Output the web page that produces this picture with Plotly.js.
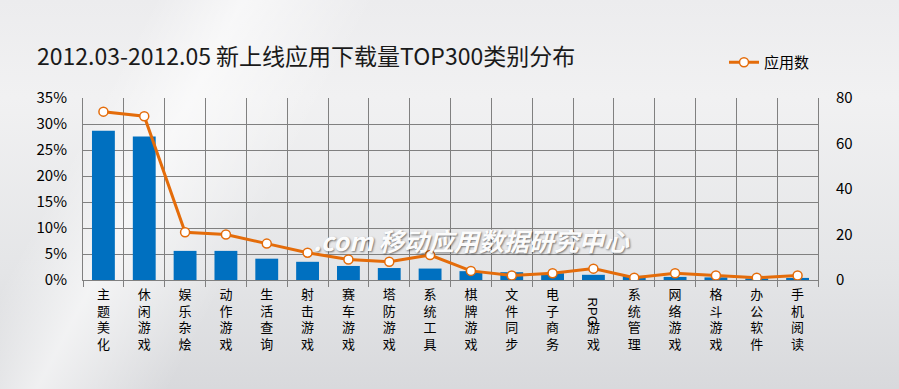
<!DOCTYPE html>
<html>
<head>
<meta charset="utf-8">
<script src="https://cdn.plot.ly/plotly-3.0.1.min.js"></script>
<style>
html,body{margin:0;padding:0;}
body{width:899px;height:389px;overflow:hidden;
background:
 linear-gradient(118deg, rgba(255,255,255,0) 0%, rgba(255,255,255,0) 14%, rgba(255,255,255,0.6) 22%, rgba(255,255,255,0) 34%, rgba(255,255,255,0) 100%),
 linear-gradient(180deg, #ececee 0%, #f1f1f2 25%, #e4e5e7 70%, #d8d9dc 100%);}
#chart{width:899px;height:389px;}
</style>
</head>
<body>
<div id="chart"></div>
<script>
const categories = ['主题美化','休闲游戏','娱乐杂烩','动作游戏','生活查询','射击游戏','赛车游戏','塔防游戏','系统工具','棋牌游戏','文件同步','电子商务','RPG游戏','系统管理','网络游戏','格斗游戏','办公软件','手机阅读'];
const sharePct = [28.7, 27.6, 5.6, 5.6, 4.1, 3.5, 2.7, 2.3, 2.2, 1.7, 1.5, 1.3, 1.0, 0.8, 0.6, 0.5, 0.3, 0.4];
const appCount = [74, 72, 21, 20, 16, 12, 9, 8, 11, 4, 2, 3, 5, 1, 3, 2, 1, 2];
const leftTicks = [0, 5, 10, 15, 20, 25, 30, 35];
const rightTicks = [0, 20, 40, 60, 80];
const titleText = '2012.03-2012.05 新上线应用下载量TOP300类别分布';
const seriesName = '应用数';
const watermark = '.com 移动应用数据研究中心';

function verticalLabel(s){
  if (s.startsWith('RPG')) return '\u3000<br>\u3000<br>' + s.slice(3).split('').join('<br>');
  return s.split('').join('<br>');
}
const tickText = categories.map(verticalLabel);

const fontFam = '"Noto Sans CJK SC", "Noto Sans", sans-serif';
const tickFam = '"Liberation Sans", "Noto Sans CJK SC", sans-serif';

const traces = [
  {type:'bar', x: categories, y: sharePct, marker:{color:'#0070C0'}, showlegend:false, hoverinfo:'skip', yaxis:'y'},
  {type:'scatter', mode:'lines+markers', x: categories, y: appCount, yaxis:'y2', name: seriesName,
   line:{color:'#E46C0A', width:3},
   marker:{symbol:'circle', size:9, color:'#ffffff', line:{color:'#E46C0A', width:1.5}}}
];

const annotations = [
  {text:'RPG', xref:'x', yref:'paper', x:'RPG游戏', y:-(312-280)/182, yanchor:'middle', xanchor:'center', textangle:90, showarrow:false,
   font:{family:tickFam, size:13, color:'#000'}},
  {text: watermark, xref:'paper', yref:'paper', x:(311-83)/735, y:(280-240)/182, xanchor:'left', yanchor:'middle', showarrow:false,
   font:{family:fontFam, size:25, color:'rgba(255,255,255,0.97)', weight:700, style:'italic', shadow:'1px 1px 2px rgba(0,0,0,0.5)'}}
];

const layout = {
  width: 899, height: 389,
  margin:{l:83, r:81, t:98, b:109},
  paper_bgcolor:'rgba(0,0,0,0)', plot_bgcolor:'rgba(0,0,0,0)',
  font:{family:fontFam, color:'#000'},
  title:{text:titleText, x:37/899, xanchor:'left', xref:'container', y:1-57/389, yanchor:'middle', yref:'container',
         font:{family:fontFam, size:23, color:'#1a1a1a'}},
  bargap:0.44,
  xaxis:{type:'category', tickmode:'array', tickvals:categories, ticktext:tickText, tickson:'boundaries',
         showgrid:true, gridcolor:'#808080', gridwidth:1, ticks:'outside', ticklen:6, tickcolor:'#808080',
         showline:true, linecolor:'#808080', linewidth:1, tickangle:0, ticklabelstandoff:2,
         tickfont:{family:tickFam, size:13, color:'#000'}, range:[-0.5, 17.5]},
  yaxis:{range:[0,35], tickmode:'array', tickvals:leftTicks, ticktext:leftTicks.map(v=>v+'%'),
         showgrid:true, gridcolor:'#808080', gridwidth:1, zeroline:false, showline:true, linecolor:'#808080',
         ticklabelstandoff:12, tickfont:{family:fontFam, size:15, color:'#000'}},
  yaxis2:{range:[0,80], tickmode:'array', tickvals:rightTicks, overlaying:'y', side:'right', showgrid:false, zeroline:false,
          showline:true, linecolor:'#808080', ticklabelstandoff:14, tickfont:{family:fontFam, size:15, color:'#000'}},
  showlegend:true,
  legend:{x:(724-83)/735, xanchor:'left', y:1+(98-46)/182, yanchor:'top', bgcolor:'rgba(0,0,0,0)',
          font:{family:fontFam, size:15, color:'#000'}, itemwidth:30},
  annotations: annotations
};

Plotly.newPlot('chart', traces, layout, {displayModeBar:false, staticPlot:true});
</script>
</body>
</html>
